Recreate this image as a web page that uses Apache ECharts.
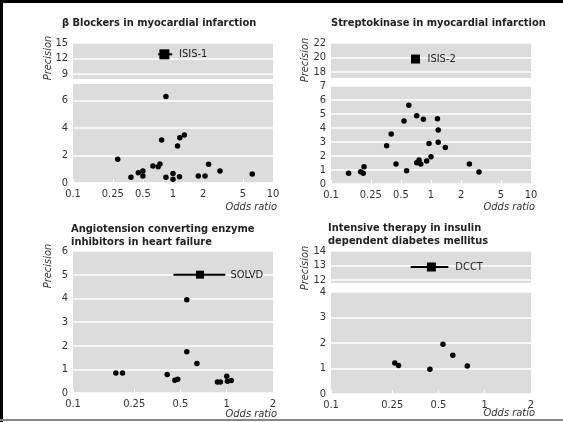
<!DOCTYPE html>
<html>
<head>
<meta charset="utf-8">
<script src="https://cdn.jsdelivr.net/npm/echarts@6/dist/echarts.min.js"></script>
<style>
html, body { margin: 0; padding: 0; background: #fff; }
#chart { width: 563px; height: 422px; }
</style>
</head>
<body>
<div id="chart"></div>
<script>
// β blockers in myocardial infarction
const bbOdds = [0.28, 0.38, 0.45, 0.5, 0.5, 0.63, 0.71, 0.74, 0.77, 0.85, 0.85, 1.0, 1.0, 1.11, 1.16, 1.17, 1.3, 1.79, 2.09, 2.27, 2.95, 6.2]
const bbPrec = [1.72, 0.41, 0.75, 0.87, 0.51, 1.24, 1.19, 1.38, 3.13, 0.41, 6.3, 0.7, 0.27, 2.69, 0.46, 3.3, 3.49, 0.51, 0.51, 1.36, 0.87, 0.65]

// streptokinase in myocardial infarction
const skOdds = [0.15, 0.198, 0.21, 0.214, 0.36, 0.40, 0.447, 0.537, 0.57, 0.60, 0.72, 0.72, 0.76, 0.79, 0.84, 0.905, 0.955, 1.0, 1.16, 1.18, 1.18, 1.39, 2.42, 3.02]
const skPrec = [0.76, 0.88, 0.76, 1.24, 2.74, 3.57, 1.43, 4.5, 0.95, 5.62, 4.88, 1.52, 1.71, 1.43, 4.62, 1.64, 2.9, 1.95, 4.66, 3.86, 2.98, 2.6, 1.43, 0.86]

// ACE inhibitors in heart failure
const aceOdds = [0.19, 0.21, 0.41, 0.46, 0.48, 0.55, 0.55, 0.64, 0.87, 0.91, 1.0, 1.01, 1.07]
const acePrec = [0.85, 0.84, 0.78, 0.54, 0.58, 3.94, 1.74, 1.25, 0.47, 0.47, 0.71, 0.5, 0.53]

// intensive therapy in IDDM
const itOdds = [0.26, 0.275, 0.44, 0.535, 0.62, 0.77]
const itPrec = [1.22, 1.12, 0.97, 1.95, 1.52, 1.1]

// large trials (square + confidence interval)
const bigNames = ['ISIS-1', 'ISIS-2', 'SOLVD', 'DCCT']
const bigOdds = [0.82, 0.70, 0.67, 0.45]
const bigLow = [0.71, 0.66, 0.45, 0.33]
const bigHigh = [0.98, 0.75, 0.98, 0.58]
const bigPrec = [12.8, 19.8, 5.0, 12.9]

// tick labels
const xTicksWide = [0.1, 0.25, 0.5, 1, 2, 5, 10]
const xTicksNarrow = [0.1, 0.25, 0.5, 1, 2]
const yTicks = [
  [9, 12, 15], [0, 2, 4, 6],
  [18, 20, 22], [0, 1, 2, 3, 4, 5, 6, 7],
  [0, 1, 2, 3, 4, 5, 6],
  [12, 13, 14], [0, 1, 2, 3, 4]
]
const yRanges = [[8, 15], [0, 7.2], [17.2, 22], [0, 7], [0, 6], [11.8, 14], [0, 4]]

const titles = [
  'β Blockers in myocardial infarction',
  'Streptokinase in myocardial infarction',
  'Angiotension converting enzyme\ninhibitors in heart failure',
  'Intensive therapy in insulin\ndependent diabetes mellitus'
]

const font = '"Liberation Sans Narrow", "DejaVu Sans Condensed", "Liberation Sans", Arial, sans-serif'
const gray = '#dcdcdc'

// upper/lower pieces of the broken axes
const grids = [
  { left: 73, top: 43, width: 200, height: 36 },
  { left: 73, top: 84, width: 200, height: 99 },
  { left: 331, top: 43, width: 200, height: 35 },
  { left: 331, top: 86, width: 200, height: 98 },
  { left: 73, top: 251, width: 200, height: 142 },
  { left: 331, top: 251, width: 200, height: 32 },
  { left: 331, top: 292, width: 200, height: 102 }
]
const xTickSets = [xTicksWide, xTicksWide, xTicksWide, xTicksWide, xTicksNarrow, xTicksNarrow, xTicksNarrow]
const showX = [false, true, false, true, true, false, true]

const chart = echarts.init(document.getElementById('chart'))

const xAxis = grids.map((g, i) => {
  const ticks = xTickSets[i]
  return {
    type: 'log',
    gridIndex: i,
    min: 0.1,
    max: ticks[ticks.length - 1],
    show: showX[i],
    axisLine: { show: false },
    axisTick: { show: true, inside: true, length: 4, customValues: ticks, lineStyle: { color: '#fff', width: 1 } },
    minorTick: { show: false },
    axisLabel: { customValues: ticks, color: '#333', fontSize: 11, fontFamily: font, margin: 6 },
    splitLine: { show: false }
  }
})

const yAxis = grids.map((g, i) => ({
  type: 'value',
  gridIndex: i,
  min: yRanges[i][0],
  max: yRanges[i][1],
  axisLine: { show: false },
  axisTick: { show: false, customValues: yTicks[i] },
  axisLabel: { customValues: yTicks[i], color: '#333', fontSize: 11, fontFamily: font, margin: 5 },
  splitLine: { show: true, lineStyle: { color: '#fff', width: 1.5 } }
}))

const dots = (odds, prec, gi) => ({
  type: 'scatter',
  xAxisIndex: gi,
  yAxisIndex: gi,
  symbol: 'circle',
  symbolSize: 5.5,
  itemStyle: { color: '#000', opacity: 1 },
  data: odds.map((o, k) => [o, prec[k]])
})

const bigGrid = [0, 2, 4, 5]
const labelGap = [7, 9, 5, 7]
const squareSize = [10, 9, 8, 9]

const series = [
  dots(bbOdds, bbPrec, 1),
  dots(skOdds, skPrec, 3),
  dots(aceOdds, acePrec, 4),
  dots(itOdds, itPrec, 6)
]
bigNames.forEach((name, k) => {
  const gi = bigGrid[k]
  series.push({
    type: 'line',
    xAxisIndex: gi,
    yAxisIndex: gi,
    symbol: 'none',
    lineStyle: { color: '#000', width: 2 },
    data: [[bigLow[k], bigPrec[k]], [bigHigh[k], bigPrec[k]]],
    endLabel: { show: true, formatter: name, distance: labelGap[k], color: '#222', fontSize: 11, fontFamily: font }
  })
  series.push({
    type: 'scatter',
    xAxisIndex: gi,
    yAxisIndex: gi,
    symbol: 'rect',
    symbolSize: squareSize[k],
    itemStyle: { color: '#000', opacity: 1 },
    data: [[bigOdds[k], bigPrec[k]]]
  })
})

const titlePos = [[62, 17], [331, 17], [71, 223], [328, 222]]
const precPos = [[48, 58], [305, 60], [48, 266], [305, 268]]
const oddsPos = [[277, 207], [535, 207], [277, 414], [535, 413]]

const textStyle = { fill: '#333', font: 'italic 11px ' + font, align: 'center', verticalAlign: 'middle' }

const graphic = [
  { type: 'rect', shape: { x: 0, y: 0, width: 563, height: 3 }, style: { fill: '#000' } },
  { type: 'rect', shape: { x: 0, y: 0, width: 3, height: 422 }, style: { fill: '#000' } },
  { type: 'rect', shape: { x: 0, y: 419, width: 563, height: 2 }, style: { fill: '#888' } }
]
precPos.forEach(p => graphic.push({
  type: 'text', x: p[0], y: p[1], rotation: Math.PI / 2,
  style: Object.assign({ text: 'Precision' }, textStyle)
}))
oddsPos.forEach(p => graphic.push({
  type: 'text', x: p[0], y: p[1],
  style: Object.assign({ text: 'Odds ratio' }, textStyle, { align: 'right' })
}))

chart.setOption({
  animation: false,
  title: titles.map((t, k) => ({
    text: t,
    left: titlePos[k][0],
    top: titlePos[k][1],
    padding: 0,
    textStyle: { fontSize: 11, fontWeight: 'bold', fontFamily: font, color: '#222', lineHeight: 13 }
  })),
  grid: grids.map(g => Object.assign({ show: true, backgroundColor: gray, borderWidth: 0, containLabel: false }, g)),
  xAxis,
  yAxis,
  series,
  graphic
})
</script>
</body>
</html>
